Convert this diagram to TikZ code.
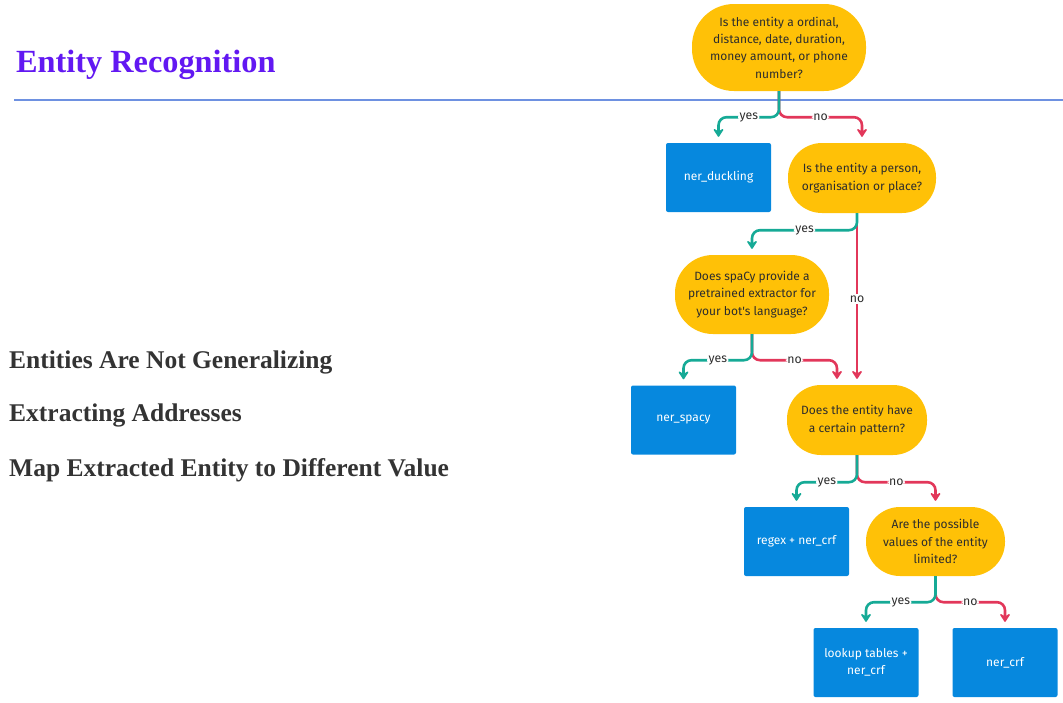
\documentclass[tikz,border=0pt]{standalone}
\usepackage{fontspec}
\setmainfont{Liberation Serif}
\newfontfamily\flowfont{Fira Sans}
\usetikzlibrary{arrows.meta,calc}
\definecolor{titlepurple}{RGB}{98,24,242}
\definecolor{headgray}{RGB}{51,51,51}
\definecolor{rulebl}{RGB}{110,145,225}
\definecolor{qyellow}{RGB}{255,193,7}
\definecolor{ablue}{RGB}{6,136,222}
\definecolor{yesc}{RGB}{22,170,150}
\definecolor{noc}{RGB}{226,55,90}
\definecolor{qtext}{RGB}{45,45,45}
\begin{document}
\begin{tikzpicture}[x=1pt,y=-1pt,
  question/.style={fill=qyellow, align=center, inner sep=0pt,
    font=\flowfont\fontsize{12}{17.3}\selectfont, text=qtext},
  answer/.style={fill=ablue, rounded corners=2pt, align=center, inner sep=0pt,
    minimum width=105pt, minimum height=69pt,
    font=\flowfont\fontsize{12}{17.3}\selectfont, text=white},
  flow/.style={line width=2.6pt, rounded corners=8pt, shorten >=6pt,
    -{Stealth[length=10pt,width=13pt,inset=4pt,round]}},
  yesline/.style={flow, draw=yesc},
  noline/.style={flow, draw=noc},
  lbl/.style={fill=white, inner sep=1.5pt, text=qtext,
    font=\flowfont\fontsize{12.3}{13}\selectfont},
  heading/.style={anchor=base west, inner sep=0pt, text=headgray,
    font=\fontsize{25.5}{30}\selectfont\bfseries}]
\useasboundingbox (0,0) rectangle (1063,702);

% page title and rule
\node[anchor=base west, inner sep=0pt, text=titlepurple,
  font=\fontsize{32.3}{38}\selectfont\bfseries] (title) at (16,72) {Entity Recognition};
\coordinate (ruleL) at (14,100);
\coordinate (ruleR) at (1063,100);
\draw[rulebl, line width=1.2pt] (ruleL) -- (ruleR);

% section headings
\node[heading] (h1) at (9,368) {Entities Are Not Generalizing};
\node[heading] (h2) at (9,421) {Extracting Addresses};
\node[heading] (h3) at (9,476) {Map Extracted Entity to Different Value};

% decision nodes
\node[question, minimum width=174pt, minimum height=87pt, rounded corners=42pt] (q1) at (779,47.5)
  {Is the entity a ordinal,\\distance, date, duration,\\money amount, or phone\\number?};
\node[question, minimum width=148pt, minimum height=70pt, rounded corners=34pt] (q2) at (862,178)
  {Is the entity a person,\\organisation or place?};
\node[question, minimum width=154pt, minimum height=79pt, rounded corners=38pt] (q3) at (752,294.5)
  {Does spaCy provide a\\pretrained extractor for\\your bot's language?};
\node[question, minimum width=140pt, minimum height=70pt, rounded corners=34pt] (q4) at (857,420)
  {Does the entity have\\a certain pattern?};
\node[question, minimum width=139pt, minimum height=69pt, rounded corners=34pt] (q5) at (935.5,541.5)
  {Are the possible\\values of the entity\\limited?};

% extractor nodes
\node[answer] (duck) at (718.5,177.5) {ner\_duckling};
\node[answer] (spacy) at (683.5,420) {ner\_spacy};
\node[answer] (regex) at (796.5,541.5) {regex + ner\_crf};
\node[answer] (lookup) at (866,662.5) {lookup tables +\\ner\_crf};
\node[answer] (crf) at (1005,662.5) {ner\_crf};

% branches: "no" first so the shared stem shows the "yes" colour
\draw[noline] (q1.south) -- ++(0,26) -| node[lbl, pos=0.25] {no} (q2.north);
\draw[yesline] (q1.south) -- ++(0,26) -| node[lbl, pos=0.25] {yes} (duck.north);

\draw[noline] (q4.north |- q2.south) -- node[lbl] {no} (q4.north);
\draw[yesline] (q4.north |- q2.south) -- ++(0,17) -| node[lbl, pos=0.25] {yes} (q3.north);

\draw[noline] (q3.south) -- ++(0,26) -| node[lbl, pos=0.25] {no} ($(q4.north)+(-20,0)$);
\draw[yesline] (q3.south) -- ++(0,26) -| node[lbl, pos=0.25] {yes} (spacy.north);

\draw[noline] (q4.south) -- ++(0,27) -| node[lbl, pos=0.25] {no} (q5.north);
\draw[yesline] (q4.south) -- ++(0,27) -| node[lbl, pos=0.25] {yes} (regex.north);

\draw[noline] (q5.south) -- ++(0,26) -| node[lbl, pos=0.25] {no} (crf.north);
\draw[yesline] (q5.south) -- ++(0,26) -| node[lbl, pos=0.25] {yes} (lookup.north);
\end{tikzpicture}
\end{document}
